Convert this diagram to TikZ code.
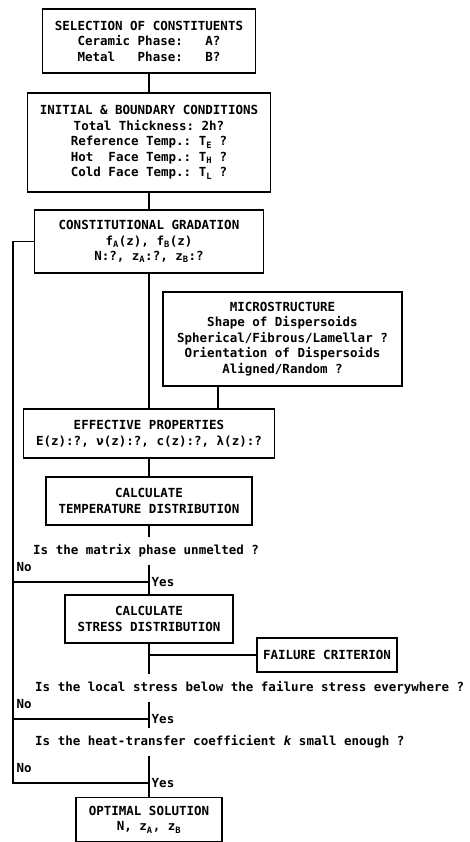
\documentclass[tikz,border=0pt]{standalone}
\usepackage{fontspec}
\setmonofont{DejaVu Sans Mono}
\usetikzlibrary{positioning}

\begin{document}
\begin{tikzpicture}[x=1pt, y=-1pt,
  every node/.style={font=\ttfamily\bfseries\fontsize{12.5}{15.5}\selectfont},
  block/.style={draw, line width=1.3pt, align=center, inner sep=0pt},
  question/.style={anchor=west, inner xsep=0pt, inner ysep=7pt},
  answer/.style={inner sep=1.5pt},
  link/.style={line width=1.2pt}]
  \useasboundingbox (0,0) rectangle (469,842);
  %Define the boxes first, all on the main axis at x=149.
  \node[block, minimum width=213pt, minimum height=64pt] (sel) at (149,41)
    {SELECTION OF CONSTITUENTS\\ Ceramic Phase:~~~A?\\ Metal~~~Phase:~~~B?};
  \node[block, minimum width=243pt, minimum height=99pt] (init) at (149,142.5)
    {INITIAL \& BOUNDARY CONDITIONS\\ Total Thickness: 2h?\\
     Reference Temp.: T\textsubscript{E} ?\\ Hot~~Face Temp.: T\textsubscript{H} ?\\
     Cold Face Temp.: T\textsubscript{L} ?};
  \node[block, minimum width=229pt, minimum height=63pt] (grad) at (149,241.5)
    {CONSTITUTIONAL GRADATION\\ f\textsubscript{A}(z), f\textsubscript{B}(z)\\
     N:?, z\textsubscript{A}:?, z\textsubscript{B}:?};
  %the side box feeding the properties
  \node[block, minimum width=239pt, minimum height=94pt] (micro) at (282.5,339)
    {MICROSTRUCTURE\\ Shape of Dispersoids\\ Spherical/Fibrous/Lamellar ?\\
     Orientation of Dispersoids\\ Aligned/Random ?};
  \node[block, minimum width=251pt, minimum height=49pt] (eff) at (149,433.5)
    {EFFECTIVE PROPERTIES\\ E(z):?, ν(z):?, c(z):?, λ(z):?};
  \node[block, minimum width=206pt, minimum height=48pt] (temp) at (149,501)
    {CALCULATE\\ TEMPERATURE DISTRIBUTION};
  \node[block, minimum width=168pt, minimum height=48pt] (stress) at (149,619)
    {CALCULATE\\ STRESS DISTRIBUTION};
  \node[block, minimum width=140pt, minimum height=34pt] (failure) at (327,655)
    {FAILURE CRITERION};
  \node[block, minimum width=146pt, minimum height=44pt] (opt) at (149,819.5)
    {OPTIMAL SOLUTION\\ N, z\textsubscript{A}, z\textsubscript{B}};
  %the three questions (the main line stops above and below each of them)
  \node[question] (q1) at (33,551) {Is the matrix phase unmelted ?};
  \node[question] (q2) at (35,688) {Is the local stress below the failure stress everywhere ?};
  \node[question] (q3) at (35,742) {Is the heat-transfer coefficient \textit{k} small enough ?};
  %junction points on the main line and on the return line
  \coordinate (j1) at (149,582);
  \coordinate (j2) at (149,719);
  \coordinate (j3) at (149,783);
  \coordinate (l1) at (13,582);
  \coordinate (l2) at (13,719);
  \coordinate (l3) at (13,783);
  %main line, top to bottom
  \draw[link] (sel) -- (init);
  \draw[link] (init) -- (grad);
  \draw[link] (grad) -- (eff);
  \draw[link] ([xshift=-64.5pt]micro.south) coordinate (mtap) -- (mtap |- eff.north);
  \draw[link] (eff) -- (temp);
  \draw[link] (temp) -- (temp.south |- q1.north);
  \draw[link] (temp.south |- q1.south) -- (stress);
  \draw[link] (stress) -- (stress.south |- q2.north);
  \draw[link] (failure) -- (failure.west -| stress.south);
  \draw[link] (stress.south |- q2.south) -- (stress.south |- q3.north);
  \draw[link] (stress.south |- q3.south) -- (opt);
  %return line for every "No"
  \draw[link] (grad.west) -| (l3) -- (j3);
  \draw[link] (l1) -- (j1);
  \draw[link] (l2) -- (j2);
  %answers
  \node[answer, above right=9pt and 2pt of l1] (no1) {No};
  \node[answer, above right=9pt and 2pt of l2] (no2) {No};
  \node[answer, above right=9pt and 2pt of l3] (no3) {No};
  \node[answer, right=1pt of j1] (yes1) {Yes};
  \node[answer, right=1pt of j2] (yes2) {Yes};
  \node[answer, right=1pt of j3] (yes3) {Yes};
\end{tikzpicture}
\end{document}
